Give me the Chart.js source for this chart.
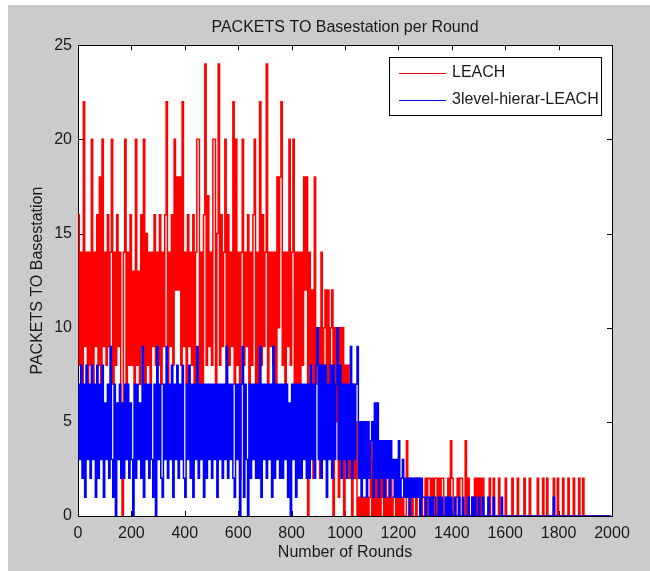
<!DOCTYPE html>
<html lang="en">
<head>
<meta charset="UTF-8">
<title>PACKETS TO Basestation per Round</title>
<style>
  html, body { margin: 0; padding: 0; background: #fff; }
  canvas { display: block; }
</style>
</head>
<body>
<canvas id="myChart" width="650" height="571"></canvas>
<script src="https://cdn.jsdelivr.net/npm/chart.js"></script>
<script>
// one value every 5 rounds (rounds 0..1995)
const roundStep = 5

const leach = [
  16,8,14,7,22,9,14,6,14,8,20,7,14,9,16,8,18,7,20,9,
  14,8,16,9,14,20,7,14,8,16,9,14,6,0,14,20,7,14,8,16,
  8,13,7,20,8,13,7,16,9,20,7,15,8,14,7,14,9,16,8,14,
  8,16,7,14,9,16,22,7,14,9,16,8,20,12,18,12,18,8,22,9,
  14,7,16,9,14,8,16,7,14,20,20,3,14,4,16,24,8,17,9,14,
  8,20,20,7,15,24,8,16,9,14,20,7,16,8,14,9,22,7,20,8,
  14,2,14,20,8,14,9,16,7,14,8,16,20,7,14,3,22,8,16,9,
  14,24,7,14,9,14,8,14,7,18,10,18,22,8,14,7,14,9,20,8,
  14,20,7,14,2,14,6,14,8,18,12,18,0,14,8,12,2,18,7,10,
  10,2,14,5,10,12,4,12,6,10,12,0,10,5,10,1,10,4,10,0,
  8,3,8,2,6,0,7,2,5,0,1,0,1,0,1,0,1,0,1,4,
  0,3,0,2,0,3,0,2,1,0,2,0,1,0,2,0,1,2,0,1,
  0,1,0,1,0,0,4,2,0,2,0,1,2,0,2,2,0,1,0,0,
  2,0,2,2,0,2,0,2,2,0,2,0,2,2,0,0,1,2,0,4,
  2,0,0,1,2,0,2,2,0,0,4,0,2,0,0,1,0,2,0,2,
  0,2,0,2,0,0,0,0,2,0,0,2,0,0,0,2,0,0,0,0,
  2,0,0,0,0,2,0,0,0,2,0,0,0,0,2,0,0,0,2,0,
  0,0,0,0,2,0,0,0,2,0,0,2,0,0,0,0,2,0,0,2,
  0,0,0,2,0,0,0,2,0,0,0,2,0,0,0,2,0,0,2,0,
  0,0,0,0,0,0,0,0,0,0,0,0,0,0,0,0,0,0,0,0
]

const hierar = [
  7,3,8,2,7,1,8,3,7,2,8,3,7,1,8,2,7,3,8,1,
  6,3,7,2,9,3,1,7,0,6,3,7,2,6,2,7,3,7,2,6,
  3,0,7,2,7,3,6,2,9,1,7,3,7,2,7,3,1,7,0,9,
  3,7,2,1,7,3,9,2,7,3,8,1,7,3,8,2,7,3,8,2,
  1,7,3,8,2,7,1,7,3,9,2,7,3,7,1,7,2,7,3,7,
  2,7,3,7,1,7,3,7,2,7,3,9,2,7,3,7,2,1,7,3,
  7,0,7,9,1,7,3,0,7,2,7,3,7,2,7,2,9,1,7,3,
  7,2,7,3,7,1,9,2,7,3,7,2,7,2,7,3,7,1,6,0,
  7,3,7,1,7,2,7,2,7,3,7,2,7,2,8,3,7,2,8,10,
  3,8,2,8,3,8,1,7,3,8,2,8,3,7,10,3,8,2,7,3,
  7,2,7,3,9,2,7,3,7,9,2,5,1,5,2,5,1,5,2,4,
  5,1,6,2,6,1,4,2,4,1,4,2,4,1,4,2,3,1,3,1,
  4,1,2,3,1,2,1,2,0,2,1,2,1,2,1,2,0,2,1,1,
  0,1,1,0,1,0,1,1,0,0,1,0,1,0,0,1,0,1,0,1,
  0,0,1,0,0,1,0,0,1,0,0,0,1,0,0,1,0,1,0,0,
  1,0,0,1,0,0,0,1,0,0,0,1,0,0,0,0,0,1,0,0,
  0,0,0,0,0,0,0,0,0,0,0,0,0,0,0,0,0,0,0,0,
  0,0,0,0,0,0,0,0,0,0,0,0,0,0,0,0,1,0,0,0,
  0,0,0,0,0,0,0,0,0,0,0,0,0,0,0,0,0,0,0,0,
  0,0,0,0,0,0,0,0,0,0,0,0,0,0,0,0,0,0,0,0
]

const xTicks = [0, 200, 400, 600, 800, 1000, 1200, 1400, 1600, 1800, 2000]
const yTicks = [0, 5, 10, 15, 20, 25]
const seriesNames = ['LEACH', '3level-hierar-LEACH']
const seriesColors = ['#ff0000', '#0000ff']

const FONT = "'Liberation Sans', Arial, sans-serif"
const TEXT = '#1a1a1a'

function toPoints(values){
    return values.map((v, i) => ({ x: i * roundStep, y: v }))
}

// matlab style figure: grey frame, boxed axes with inward ticks, boxed legend
const matlabFrame = {
    id: 'matlabFrame',
    beforeDraw(chart){
        const { ctx, chartArea: a } = chart
        ctx.save()
        ctx.fillStyle = '#ffffff'
        ctx.fillRect(0, 0, chart.width, chart.height)
        ctx.fillStyle = '#cbcbcb'
        ctx.fillRect(8, 5, chart.width - 8, chart.height - 5)
        ctx.fillStyle = '#ffffff'
        ctx.fillRect(a.left, a.top, a.right - a.left, a.bottom - a.top)
        ctx.restore()
    },
    beforeDatasetsDraw(chart){
        const { ctx, chartArea: a, scales } = chart
        ctx.save()
        ctx.strokeStyle = '#000'
        ctx.lineWidth = 1
        ctx.strokeRect(Math.round(a.left) + 0.5, Math.round(a.top) + 0.5,
            Math.round(a.right - a.left), Math.round(a.bottom - a.top))
        const len = 5
        ctx.beginPath()
        scales.x.ticks.forEach(t => {
            const px = Math.round(scales.x.getPixelForValue(t.value)) + 0.5
            ctx.moveTo(px, a.bottom); ctx.lineTo(px, a.bottom - len)
            ctx.moveTo(px, a.top); ctx.lineTo(px, a.top + len)
        })
        scales.y.ticks.forEach(t => {
            const py = Math.round(scales.y.getPixelForValue(t.value)) + 0.5
            ctx.moveTo(a.left, py); ctx.lineTo(a.left + len, py)
            ctx.moveTo(a.right, py); ctx.lineTo(a.right - len, py)
        })
        ctx.stroke()
        ctx.restore()
    },
    afterDraw(chart){
        const { ctx } = chart
        const box = { left: 389, top: 57, width: 212, height: 58 }
        ctx.save()
        ctx.fillStyle = '#fff'
        ctx.fillRect(box.left, box.top, box.width, box.height)
        ctx.strokeStyle = '#000'
        ctx.lineWidth = 1
        ctx.strokeRect(box.left + 0.5, box.top + 0.5, box.width, box.height)
        ctx.font = '16px ' + FONT
        ctx.textBaseline = 'middle'
        chart.data.datasets.forEach((ds, i) => {
            const y = box.top + 16 + i * 27
            ctx.strokeStyle = ds.borderColor
            ctx.lineWidth = 1
            ctx.beginPath()
            ctx.moveTo(box.left + 10, y + 0.5)
            ctx.lineTo(box.left + 57, y + 0.5)
            ctx.stroke()
            ctx.fillStyle = TEXT
            ctx.fillText(ds.label, box.left + 63, y)
        })
        ctx.restore()
    }
}

const ctx = document.getElementById('myChart')
new Chart(ctx, {
    type: 'line',
    data: {
        datasets: [
            {
                label: seriesNames[0],
                data: toPoints(leach),
                borderColor: seriesColors[0],
                borderWidth: 1.5,
                pointRadius: 0,
                stepped: true,
                order: 1
            },
            {
                label: seriesNames[1],
                data: toPoints(hierar),
                borderColor: seriesColors[1],
                borderWidth: 1.5,
                pointRadius: 0,
                stepped: true,
                order: 0
            }
        ]
    },
    options: {
        responsive: false,
        animation: false,
        devicePixelRatio: 1,
        layout: { padding: { left: 0, right: 38, top: 0, bottom: 0 } },
        plugins: {
            legend: { display: false },
            tooltip: { enabled: false },
            title: {
                display: true,
                fullSize: false,
                text: 'PACKETS TO Basestation per Round',
                color: TEXT,
                font: { family: FONT, size: 16, weight: 'normal' },
                padding: { top: 18, bottom: 8 }
            }
        },
        scales: {
            x: {
                type: 'linear',
                min: 0,
                max: 2000,
                afterBuildTicks: s => { s.ticks = xTicks.map(v => ({ value: v })) },
                afterFit: s => { s.height = 55 },
                grid: { display: false, drawTicks: false },
                border: { display: false },
                ticks: {
                    color: TEXT,
                    font: { family: FONT, size: 16 },
                    padding: 8,
                    maxRotation: 0,
                    autoSkip: false,
                    callback: v => String(v)
                },
                title: {
                    display: true,
                    text: 'Number of Rounds',
                    color: TEXT,
                    font: { family: FONT, size: 16 },
                    padding: { top: 0, bottom: 9 }
                }
            },
            y: {
                type: 'linear',
                min: 0,
                max: 25,
                afterBuildTicks: s => { s.ticks = yTicks.map(v => ({ value: v })) },
                afterFit: s => { s.width = 78 },
                grid: { display: false, drawTicks: false },
                border: { display: false },
                ticks: {
                    color: TEXT,
                    font: { family: FONT, size: 16 },
                    padding: 6,
                    callback: v => String(v)
                },
                title: {
                    display: true,
                    text: 'PACKETS TO Basestation',
                    color: TEXT,
                    font: { family: FONT, size: 16 },
                    padding: { top: 28, bottom: 0 }
                }
            }
        }
    },
    plugins: [matlabFrame]
});
</script>
</body>
</html>
